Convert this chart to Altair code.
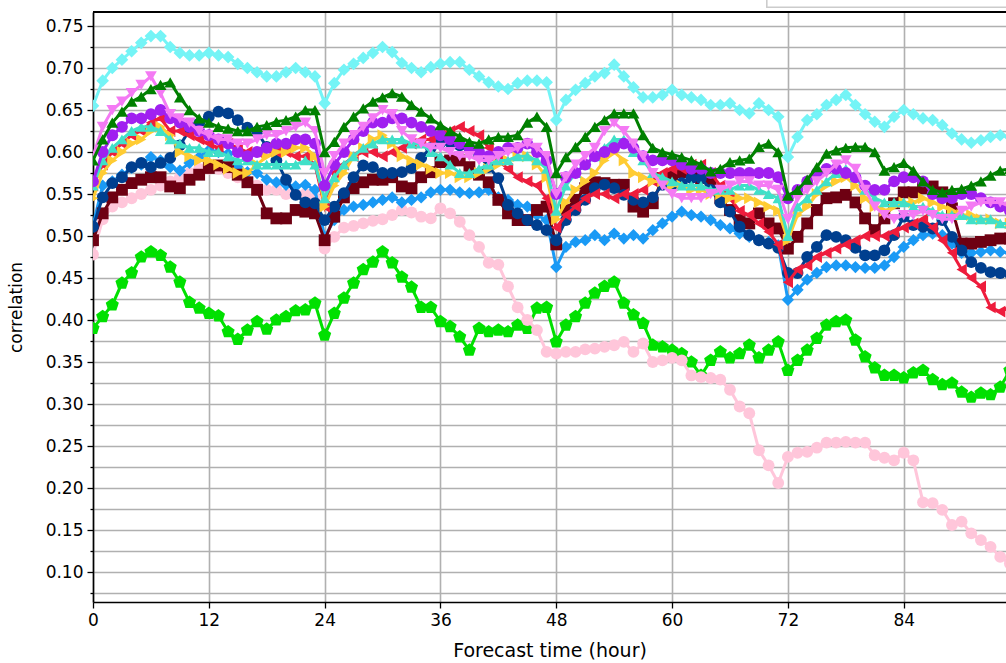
import altair as alt
import pandas as pd

HOURS = list(range(96))

cyan = [0.655, 0.685, 0.700, 0.710, 0.720, 0.730, 0.738, 0.738, 0.725, 0.718, 0.715, 0.715,
        0.718, 0.715, 0.713, 0.705, 0.700, 0.695, 0.690, 0.690, 0.695, 0.700, 0.695, 0.690,
        0.658, 0.682, 0.698, 0.705, 0.712, 0.718, 0.725, 0.719, 0.706, 0.700, 0.695, 0.701,
        0.705, 0.707, 0.707, 0.698, 0.690, 0.683, 0.678, 0.675, 0.682, 0.685, 0.685, 0.683,
        0.638, 0.662, 0.674, 0.682, 0.690, 0.694, 0.704, 0.690, 0.677, 0.665, 0.665, 0.668,
        0.674, 0.668, 0.665, 0.662, 0.656, 0.656, 0.658, 0.650, 0.646, 0.658, 0.650, 0.642,
        0.594, 0.618, 0.638, 0.645, 0.656, 0.662, 0.668, 0.656, 0.645, 0.636, 0.630, 0.642,
        0.650, 0.645, 0.640, 0.638, 0.632, 0.622, 0.615, 0.611, 0.614, 0.618, 0.620, 0.618]

green = [0.590, 0.615, 0.635, 0.648, 0.660, 0.666, 0.675, 0.680, 0.683, 0.665, 0.650, 0.640,
         0.635, 0.630, 0.628, 0.625, 0.625, 0.630, 0.632, 0.636, 0.638, 0.642, 0.650, 0.650,
         0.600, 0.612, 0.630, 0.642, 0.652, 0.660, 0.665, 0.670, 0.666, 0.656, 0.648, 0.640,
         0.632, 0.625, 0.618, 0.612, 0.610, 0.615, 0.618, 0.618, 0.620, 0.635, 0.642, 0.630,
         0.575, 0.594, 0.606, 0.618, 0.630, 0.638, 0.646, 0.646, 0.646, 0.620, 0.605, 0.600,
         0.597, 0.594, 0.590, 0.585, 0.577, 0.580, 0.588, 0.590, 0.592, 0.606, 0.610, 0.600,
         0.548, 0.555, 0.567, 0.582, 0.598, 0.602, 0.605, 0.606, 0.606, 0.600, 0.578, 0.582,
         0.587, 0.578, 0.565, 0.555, 0.552, 0.555, 0.556, 0.560, 0.565, 0.572, 0.578, 0.580]

violet = [0.595, 0.630, 0.650, 0.660, 0.670, 0.680, 0.690, 0.670, 0.645, 0.640, 0.635, 0.625,
          0.620, 0.615, 0.615, 0.610, 0.610, 0.615, 0.620, 0.620, 0.625, 0.630, 0.635, 0.625,
          0.575, 0.595, 0.610, 0.620, 0.630, 0.640, 0.650, 0.645, 0.625, 0.615, 0.610, 0.605,
          0.605, 0.600, 0.595, 0.595, 0.590, 0.590, 0.595, 0.600, 0.605, 0.610, 0.605, 0.595,
          0.550, 0.570, 0.585, 0.595, 0.605, 0.625, 0.635, 0.625, 0.610, 0.595, 0.575, 0.560,
          0.550, 0.545, 0.545, 0.545, 0.550, 0.555, 0.560, 0.565, 0.565, 0.560, 0.560, 0.555,
          0.520, 0.545, 0.555, 0.565, 0.575, 0.585, 0.590, 0.580, 0.555, 0.535, 0.525, 0.520,
          0.525, 0.525, 0.530, 0.525, 0.520, 0.520, 0.530, 0.535, 0.540, 0.540, 0.540, 0.535]

purple = [0.565, 0.600, 0.620, 0.630, 0.640, 0.640, 0.645, 0.650, 0.640, 0.635, 0.630, 0.625,
          0.620, 0.615, 0.610, 0.600, 0.595, 0.600, 0.605, 0.610, 0.610, 0.615, 0.615, 0.610,
          0.560, 0.585, 0.600, 0.615, 0.625, 0.635, 0.635, 0.640, 0.640, 0.635, 0.630, 0.625,
          0.620, 0.615, 0.610, 0.605, 0.600, 0.595, 0.600, 0.605, 0.605, 0.610, 0.600, 0.590,
          0.550, 0.570, 0.575, 0.585, 0.595, 0.600, 0.605, 0.610, 0.605, 0.595, 0.590, 0.590,
          0.590, 0.585, 0.580, 0.580, 0.575, 0.575, 0.575, 0.575, 0.575, 0.575, 0.575, 0.570,
          0.545, 0.555, 0.565, 0.575, 0.580, 0.580, 0.575, 0.570, 0.560, 0.555, 0.555, 0.565,
          0.570, 0.570, 0.565, 0.550, 0.545, 0.545, 0.550, 0.550, 0.545, 0.540, 0.535, 0.530]

red = [0.560, 0.585, 0.600, 0.610, 0.620, 0.625, 0.635, 0.640, 0.625, 0.625, 0.620, 0.615,
       0.610, 0.605, 0.610, 0.605, 0.600, 0.600, 0.605, 0.600, 0.600, 0.595, 0.595, 0.585,
       0.535, 0.575, 0.585, 0.595, 0.600, 0.600, 0.595, 0.600, 0.605, 0.610, 0.615, 0.615,
       0.620, 0.625, 0.630, 0.625, 0.620, 0.605, 0.590, 0.580, 0.570, 0.565, 0.560, 0.545,
       0.510, 0.525, 0.535, 0.545, 0.550, 0.550, 0.545, 0.550, 0.550, 0.555, 0.565, 0.575,
       0.580, 0.580, 0.585, 0.585, 0.575, 0.560, 0.545, 0.530, 0.525, 0.515, 0.505, 0.490,
       0.445, 0.460, 0.465, 0.475, 0.480, 0.485, 0.490, 0.495, 0.500, 0.500, 0.500, 0.505,
       0.510, 0.515, 0.520, 0.510, 0.495, 0.480, 0.460, 0.450, 0.440, 0.415, 0.410, 0.415]

gold = [0.545, 0.575, 0.590, 0.600, 0.610, 0.615, 0.625, 0.630, 0.620, 0.600, 0.595, 0.590,
        0.590, 0.585, 0.580, 0.575, 0.575, 0.585, 0.595, 0.600, 0.600, 0.605, 0.605, 0.595,
        0.535, 0.560, 0.575, 0.595, 0.605, 0.615, 0.620, 0.610, 0.595, 0.590, 0.585, 0.580,
        0.575, 0.575, 0.570, 0.570, 0.575, 0.580, 0.585, 0.590, 0.595, 0.595, 0.585, 0.570,
        0.520, 0.540, 0.555, 0.565, 0.575, 0.590, 0.600, 0.590, 0.575, 0.570, 0.565, 0.565,
        0.560, 0.560, 0.555, 0.555, 0.550, 0.550, 0.545, 0.545, 0.545, 0.540, 0.535, 0.530,
        0.495, 0.525, 0.535, 0.550, 0.560, 0.565, 0.570, 0.560, 0.545, 0.535, 0.530, 0.535,
        0.540, 0.540, 0.545, 0.540, 0.535, 0.530, 0.525, 0.525, 0.520, 0.520, 0.515, 0.515]

turquoise = [0.560, 0.590, 0.605, 0.615, 0.625, 0.630, 0.630, 0.625, 0.615, 0.610, 0.605, 0.605,
             0.600, 0.600, 0.595, 0.590, 0.590, 0.585, 0.585, 0.585, 0.585, 0.585, 0.590, 0.585,
             0.545, 0.570, 0.585, 0.595, 0.605, 0.610, 0.615, 0.615, 0.615, 0.610, 0.610, 0.600,
             0.595, 0.585, 0.575, 0.575, 0.580, 0.585, 0.590, 0.590, 0.595, 0.595, 0.590, 0.580,
             0.530, 0.560, 0.575, 0.585, 0.595, 0.605, 0.615, 0.615, 0.600, 0.590, 0.575, 0.570,
             0.565, 0.560, 0.560, 0.560, 0.555, 0.555, 0.555, 0.560, 0.560, 0.555, 0.550, 0.545,
             0.500, 0.535, 0.545, 0.555, 0.565, 0.575, 0.580, 0.570, 0.555, 0.545, 0.540, 0.540,
             0.540, 0.535, 0.535, 0.530, 0.525, 0.525, 0.525, 0.520, 0.520, 0.520, 0.515, 0.515]

maroon = [0.495, 0.527, 0.546, 0.555, 0.563, 0.567, 0.570, 0.570, 0.559, 0.557, 0.567, 0.573,
          0.581, 0.584, 0.582, 0.573, 0.564, 0.555, 0.527, 0.521, 0.521, 0.531, 0.529, 0.527,
          0.495, 0.523, 0.546, 0.557, 0.564, 0.567, 0.567, 0.570, 0.559, 0.557, 0.570, 0.576,
          0.588, 0.590, 0.590, 0.582, 0.573, 0.564, 0.543, 0.527, 0.519, 0.519, 0.531, 0.535,
          0.490, 0.531, 0.543, 0.557, 0.564, 0.563, 0.561, 0.561, 0.535, 0.529, 0.539, 0.569,
          0.573, 0.576, 0.578, 0.569, 0.564, 0.545, 0.531, 0.519, 0.515, 0.527, 0.515, 0.509,
          0.485, 0.499, 0.515, 0.531, 0.545, 0.546, 0.549, 0.540, 0.521, 0.507, 0.521, 0.539,
          0.552, 0.552, 0.557, 0.559, 0.552, 0.533, 0.491, 0.491, 0.493, 0.495, 0.497, 0.497]

navy = [0.511, 0.546, 0.563, 0.570, 0.582, 0.587, 0.582, 0.587, 0.593, 0.608, 0.626, 0.634,
        0.642, 0.648, 0.646, 0.638, 0.629, 0.624, 0.606, 0.590, 0.567, 0.549, 0.540, 0.539,
        0.519, 0.535, 0.551, 0.570, 0.584, 0.582, 0.575, 0.575, 0.576, 0.581, 0.593, 0.605,
        0.611, 0.612, 0.608, 0.605, 0.596, 0.582, 0.569, 0.537, 0.527, 0.519, 0.513, 0.507,
        0.495, 0.519, 0.531, 0.543, 0.557, 0.561, 0.557, 0.549, 0.543, 0.540, 0.546, 0.561,
        0.561, 0.563, 0.569, 0.569, 0.555, 0.540, 0.529, 0.511, 0.501, 0.495, 0.491, 0.486,
        0.456, 0.456, 0.475, 0.487, 0.501, 0.499, 0.495, 0.486, 0.477, 0.477, 0.483, 0.501,
        0.523, 0.513, 0.511, 0.509, 0.519, 0.499, 0.483, 0.469, 0.462, 0.457, 0.456, 0.455]

dodger = [0.513, 0.560, 0.565, 0.573, 0.581, 0.585, 0.594, 0.590, 0.582, 0.578, 0.587, 0.594,
          0.602, 0.600, 0.598, 0.582, 0.576, 0.575, 0.567, 0.564, 0.561, 0.559, 0.561, 0.555,
          0.499, 0.519, 0.531, 0.535, 0.537, 0.540, 0.543, 0.546, 0.540, 0.543, 0.546, 0.552,
          0.555, 0.555, 0.552, 0.551, 0.552, 0.555, 0.546, 0.543, 0.537, 0.535, 0.525, 0.519,
          0.463, 0.487, 0.493, 0.495, 0.501, 0.495, 0.503, 0.497, 0.501, 0.497, 0.507, 0.515,
          0.523, 0.529, 0.525, 0.523, 0.519, 0.513, 0.509, 0.503, 0.499, 0.495, 0.493, 0.489,
          0.424, 0.436, 0.448, 0.456, 0.463, 0.465, 0.465, 0.463, 0.462, 0.462, 0.465, 0.475,
          0.487, 0.495, 0.501, 0.503, 0.501, 0.491, 0.480, 0.480, 0.481, 0.483, 0.481, 0.480]

pink = [0.478, 0.520, 0.535, 0.540, 0.545, 0.550, 0.555, 0.560, 0.565, 0.570, 0.575, 0.580,
        0.580, 0.580, 0.575, 0.570, 0.565, 0.560, 0.555, 0.555, 0.550, 0.550, 0.550, 0.545,
        0.485, 0.499, 0.510, 0.512, 0.515, 0.518, 0.520, 0.525, 0.531, 0.528, 0.523, 0.521,
        0.533, 0.527, 0.517, 0.501, 0.487, 0.468, 0.466, 0.440, 0.415, 0.400, 0.388, 0.362,
        0.360, 0.362, 0.362, 0.365, 0.366, 0.368, 0.370, 0.374, 0.362, 0.372, 0.350, 0.352,
        0.355, 0.352, 0.334, 0.332, 0.331, 0.329, 0.317, 0.297, 0.289, 0.245, 0.227, 0.206,
        0.237, 0.242, 0.243, 0.248, 0.254, 0.254, 0.255, 0.254, 0.254, 0.239, 0.236, 0.233,
        0.242, 0.233, 0.183, 0.182, 0.174, 0.156, 0.160, 0.146, 0.138, 0.130, 0.118, 0.110]

lime = [0.390, 0.404, 0.418, 0.444, 0.456, 0.475, 0.481, 0.477, 0.463, 0.445, 0.421, 0.414,
        0.408, 0.405, 0.386, 0.377, 0.388, 0.398, 0.389, 0.400, 0.404, 0.411, 0.412, 0.420,
        0.382, 0.408, 0.426, 0.444, 0.460, 0.469, 0.481, 0.468, 0.451, 0.439, 0.415, 0.415,
        0.398, 0.392, 0.380, 0.364, 0.390, 0.386, 0.388, 0.386, 0.394, 0.390, 0.414, 0.415,
        0.374, 0.394, 0.404, 0.420, 0.432, 0.440, 0.445, 0.420, 0.406, 0.396, 0.370, 0.368,
        0.364, 0.360, 0.350, 0.334, 0.352, 0.362, 0.355, 0.360, 0.370, 0.355, 0.364, 0.374,
        0.340, 0.352, 0.364, 0.378, 0.394, 0.398, 0.400, 0.376, 0.356, 0.343, 0.334, 0.334,
        0.331, 0.337, 0.340, 0.329, 0.323, 0.325, 0.314, 0.308, 0.313, 0.311, 0.320, 0.340]

PENTAGON = "M0,-1L0.951,-0.309L0.588,0.809L-0.588,0.809L-0.951,-0.309Z"

# drawing order: first is drawn underneath
SERIES = [
    ("lime", lime, "#00e000", PENTAGON, 190),
    ("pink", pink, "#ffc6da", "circle", 140),
    ("dodger", dodger, "#1a9af5", "diamond", 150),
    ("maroon", maroon, "#6e0012", "square", 140),
    ("navy", navy, "#003f8f", "circle", 140),
    ("red", red, "#ee1c3c", "triangle-left", 140),
    ("gold", gold, "#ffcc33", "triangle-right", 140),
    ("turquoise", turquoise, "#40e0c8", "triangle-up", 130),
    ("purple", purple, "#a020f0", "circle", 140),
    ("violet", violet, "#f47af4", "triangle-down", 140),
    ("green", green, "#008000", "triangle-up", 140),
    ("cyan", cyan, "#74f4f6", "diamond", 160),
]

rows = []
for name, vals, _, _, _ in SERIES:
    for h, v in zip(HOURS, vals):
        rows.append({"hour": h, "value": v, "series": name})
df = pd.DataFrame(rows)

Y_TICKS = [round(0.075 + 0.025 * i, 3) for i in range(28)]
X_TICKS = [0, 12, 24, 36, 48, 60, 72, 84]

FONT = "DejaVu Sans"
MAJOR = "abs(datum.value * 20 - round(datum.value * 20)) < 0.001"

x_enc = alt.X(
    "hour:Q",
    scale=alt.Scale(domain=[0, 94.6], nice=False, zero=False),
    axis=alt.Axis(
        values=X_TICKS, title="Forecast time (hour)", grid=True,
        gridColor="#b0b0b0", gridWidth=1.6, domainColor="black", domainWidth=1.6,
        tickColor="black", tickSize=6, tickWidth=1.3, labelPadding=4,
        labelFont=FONT, labelFontSize=17, labelColor="black",
        titleFont=FONT, titleFontSize=19, titleFontWeight="normal",
        titleColor="black", titlePadding=13, labelFlush=False,
    ),
)
y_enc = alt.Y(
    "value:Q",
    scale=alt.Scale(domain=[0.0643, 0.7667], nice=False, zero=False),
    axis=alt.Axis(
        values=Y_TICKS, title="correlation", grid=True,
        gridColor="#b0b0b0", gridWidth=1.6, domainColor="black", domainWidth=1.6,
        tickColor="black",
        tickSize={"condition": {"test": MAJOR, "value": 6}, "value": 3},
        tickWidth=1.3, labelPadding=4,
        labelExpr=MAJOR + " ? format(datum.value, '.2f') : ''",
        labelFont=FONT, labelFontSize=17, labelColor="black",
        titleFont=FONT, titleFontSize=17, titleFontWeight="normal",
        titleColor="black", titlePadding=20, labelFlush=False,
    ),
)

layers = []
for name, _, color, shape, size in SERIES:
    base = alt.Chart(df).transform_filter(alt.datum.series == name)
    line = base.mark_line(color=color, strokeWidth=3, clip=True).encode(x=x_enc, y=y_enc)
    pts = base.mark_point(
        shape=shape, filled=True, size=size, color=color, opacity=1, clip=True
    ).encode(x=x_enc, y=y_enc)
    layers += [line, pts]

top_frame = alt.Chart(df).mark_rule(color="black", strokeWidth=1.6).encode(
    x=alt.value(0), x2=alt.value(913), y=alt.value(0)
)
legend_box = alt.Chart(df).mark_rect(
    fill="white", stroke="#cccccc", strokeWidth=1.2, clip=False
).encode(x=alt.value(674), x2=alt.value(940), y=alt.value(-40), y2=alt.value(-5))
layers += [top_frame, legend_box]

chart = (
    alt.layer(*layers)
    .properties(
        width=913, height=590,
        autosize=alt.AutoSizeParams(type="none"),
        padding={"left": 93, "top": 12, "right": 0, "bottom": 61},
        background="white",
    )
    .configure_view(stroke=None)
)

chart.save("out.html", embed_options={"renderer": "svg", "actions": False})
